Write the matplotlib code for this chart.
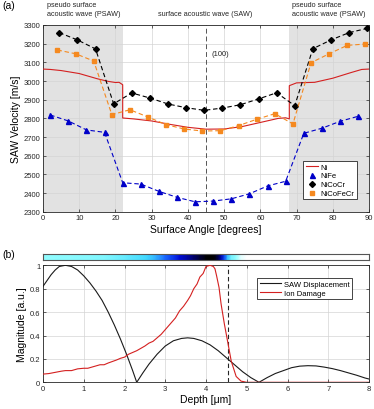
import numpy as np
import matplotlib
matplotlib.use("Agg")
import matplotlib.pyplot as plt
from matplotlib.lines import Line2D
from matplotlib.colors import LinearSegmentedColormap

plt.rcParams['font.family'] = ['Liberation Sans', 'DejaVu Sans']
plt.rcParams['mathtext.fontset'] = 'dejavusans'

# ---------------- data: panel (a) ----------------
ang_ni = [0, 2, 5, 10, 15, 18, 20, 21, 22, 22, 25, 30, 35, 40, 45, 50, 55, 60, 65, 67, 68, 68, 70, 75, 80, 85, 88, 90]
vel_ni = [3064, 3062, 3056, 3040, 3012, 2998, 2992, 2993, 2980, 2802, 2797, 2786, 2768, 2752, 2742,
          2743, 2756, 2778, 2800, 2803, 2797, 2975, 2990, 2993, 3015, 3045, 3062, 3064]

ang_nife = [2, 7, 12, 17, 22, 27, 32, 37, 42, 47, 52, 57, 62, 67, 72, 77, 82, 87]
vel_nife = [2818, 2786, 2738, 2725, 2455, 2448, 2409, 2377, 2353, 2357, 2369, 2396, 2438, 2463,
            2720, 2747, 2784, 2811]

ang_nicocr = [4.5, 9.5, 14.5, 19.5, 24.5, 29.5, 34.5, 39.5, 44.5, 49.5, 54.5, 59.5, 64.5, 69.5,
              74.5, 79.5, 84.5, 89.5]
vel_nicocr = [3259, 3220, 3172, 2878, 2936, 2909, 2877, 2857, 2843, 2855, 2873, 2904, 2937, 2868,
              3173, 3220, 3259, 3282]

ang_nicofecr = [4, 9, 14, 19, 24, 29, 34, 39, 44, 49, 54, 59, 64, 69, 74, 79, 84, 89]
vel_nicofecr = [3166, 3146, 3107, 2820, 2846, 2807, 2766, 2743, 2732, 2734, 2761, 2795, 2825, 2770,
                3098, 3146, 3191, 3198]

# ---------------- data: panel (b) ----------------
depth_saw = [0.0, 0.1, 0.2, 0.3, 0.4, 0.55, 0.7, 0.85, 1.0, 1.15, 1.3, 1.45, 1.6, 1.75, 1.9, 2.05, 2.2, 2.3,
             2.45, 2.6, 2.8, 3.0, 3.2, 3.4, 3.55, 3.7, 3.9, 4.1, 4.3, 4.5, 4.7, 4.9, 5.1, 5.3,
             5.5, 5.7, 5.9, 6.1, 6.3, 6.5, 6.7, 6.9, 7.1, 7.3, 7.5, 7.7, 7.9, 8.0]
mag_saw = [0.82, 0.87, 0.92, 0.96, 0.99, 1.00, 0.99, 0.96, 0.91, 0.85, 0.78, 0.70, 0.60, 0.49, 0.37, 0.24, 0.10, 0.0,
           0.08, 0.155, 0.24, 0.31, 0.355, 0.375, 0.38, 0.375, 0.355, 0.32, 0.27, 0.21, 0.15, 0.09, 0.04, 0.0,
           0.04, 0.075, 0.10, 0.125, 0.138, 0.142, 0.14, 0.13, 0.117, 0.10, 0.08, 0.06, 0.037, 0.028]

depth_dmg = [0.0, 0.15, 0.3, 0.45, 0.55, 0.7, 0.85, 1.0, 1.1, 1.25, 1.4, 1.5, 1.6, 1.8, 1.9, 2.0, 2.1, 2.2, 2.3,
             2.4, 2.5, 2.6, 2.7, 2.8, 2.9, 3.0, 3.15, 3.25, 3.35, 3.45, 3.55, 3.62, 3.7, 3.78, 3.85, 3.93, 4.0,
             4.1, 4.18, 4.22, 4.26, 4.32, 4.37, 4.45, 4.53, 4.62, 4.74, 4.86, 5.0, 8.0]
mag_dmg = [0.07, 0.075, 0.085, 0.095, 0.10, 0.10, 0.115, 0.12, 0.12, 0.135, 0.15, 0.15, 0.165, 0.19, 0.205, 0.215,
           0.24, 0.255, 0.27, 0.29, 0.31, 0.335, 0.35, 0.38, 0.41, 0.45, 0.51, 0.55, 0.61, 0.65, 0.70, 0.74,
           0.80, 0.84, 0.90, 0.93, 0.99, 1.00, 0.99, 0.97, 0.91, 0.81, 0.67, 0.50, 0.35, 0.18, 0.05, 0.01, 0.0, 0.0]

psaw_left = (0, 22)
psaw_right = (68, 90)
surface_100 = 45
damage_edge = 4.55

RED = '#d42020'
BLUE = '#0000c8'
ORANGE = '#f5891f'
GRID = '#d4d4d4'
SHADE = '#e2e2e2'

fig = plt.figure(figsize=(3.74, 4.10), dpi=100)
W, H = 374, 410


def ax_at(x0, y0, x1, y1):
    return fig.add_axes([x0 / W, 1 - y1 / H, (x1 - x0) / W, (y1 - y0) / H])


def style(ax):
    ax.tick_params(direction='in', top=True, right=True, length=2.5, width=0.5,
                   labelsize=5.5, pad=2, colors='#262626')
    for s in ax.spines.values():
        s.set_linewidth(0.6)
        s.set_color('#262626')
    ax.grid(True, color=GRID, lw=0.5)
    ax.set_axisbelow(True)


# ---------------- panel (a) ----------------
ax = ax_at(43, 26, 369, 212.7)
style(ax)
ax.axvspan(*psaw_left, color=SHADE, lw=0, zorder=0)
ax.axvspan(*psaw_right, color=SHADE, lw=0, zorder=0)
ax.axvline(surface_100, color='#555555', lw=0.7, ls=(0, (5, 3)), zorder=1.5)
ax.plot(ang_ni, vel_ni, color=RED, lw=0.8, zorder=3)
ax.plot(ang_nife, vel_nife, color=BLUE, lw=0.8, ls=(0, (4, 2.5)), marker='^', ms=3.6, zorder=3)
ax.plot(ang_nicocr, vel_nicocr, color='black', lw=0.8, ls=(0, (4, 2.5)), marker='D', ms=3.0, zorder=3)
ax.plot(ang_nicofecr, vel_nicofecr, color=ORANGE, lw=0.8, ls=(0, (4, 2.5)), marker='s', ms=3.0, zorder=3)
ax.set_xlim(0, 90)
ax.set_ylim(2300, 3300)
ax.set_xticks(range(0, 91, 10))
ax.set_yticks(range(2300, 3301, 100))
ax.set_xlabel('Surface Angle [degrees]', fontsize=7.5, labelpad=2)
ax.set_ylabel('SAW Velocity [m/s]', fontsize=7.5, labelpad=2)
ax.text(46.5, 3147, '(100)', fontsize=5.5, color='#262626', ha='left', va='center')

handles = [Line2D([], [], color=RED, lw=0.8),
           Line2D([], [], color=BLUE, ls='none', marker='^', ms=3.6),
           Line2D([], [], color='black', ls='none', marker='D', ms=3.0),
           Line2D([], [], color=ORANGE, ls='none', marker='s', ms=3.0)]
leg = ax.legend(handles, ['Ni', 'NiFe', 'NiCoCr', 'NiCoFeCr'], loc='lower right',
                bbox_to_anchor=(0.975, 0.045), fontsize=5.5, handlelength=1.6, handletextpad=0.4,
                labelspacing=0.2, borderpad=0.3, fancybox=False, framealpha=1, edgecolor='#262626')
leg.get_frame().set_linewidth(0.6)

fig.text(47 / W, 1 - 10 / H, 'pseudo surface\nacoustic wave (PSAW)', fontsize=5.2, ha='left', va='center',
         linespacing=1.3, color='#262626')
fig.text(292 / W, 1 - 10 / H, 'pseudo surface\nacoustic wave (PSAW)', fontsize=5.2, ha='left', va='center',
         linespacing=1.3, color='#262626')
fig.text(205.5 / W, 1 - 15 / H, 'surface acoustic wave (SAW)', fontsize=5.2, ha='center', va='center',
         color='#262626')
fig.text(2 / W, 1 - 6 / H, '(a)', fontsize=7.5, ha='left', va='center')
fig.text(2 / W, 1 - 255 / H, '(b)', fontsize=7.5, ha='left', va='center')

# ---------------- colour strip ----------------
cmap = LinearSegmentedColormap.from_list('dmg', [
    (0.0, (1.0, 1.0, 1.0)),
    (0.03, (0.6, 1.0, 1.0)),
    (0.15, (0.5, 0.97, 1.0)),
    (0.32, (0.25, 0.85, 1.0)),
    (0.45, (0.1, 0.4, 1.0)),
    (0.6, (0.0, 0.05, 0.85)),
    (0.8, (0.0, 0.0, 0.4)),
    (1.0, (0.0, 0.0, 0.0))])
axc = ax_at(43, 255.3, 369, 261.3)
dx = np.array(depth_dmg)
dv = np.array(mag_dmg)
axc.pcolormesh(np.vstack([dx, dx]), np.vstack([np.zeros_like(dx), np.ones_like(dx)]),
               np.vstack([dv, dv]), cmap=cmap, vmin=0, vmax=1, shading='gouraud')
axc.set_xlim(0, 8)
axc.set_ylim(0, 1)
axc.set_xticks([])
axc.set_yticks([])
for s in axc.spines.values():
    s.set_linewidth(0.8)
    s.set_color('#555555')

# ---------------- panel (b) ----------------
bx = ax_at(43, 266.3, 369, 383.3)
style(bx)
bx.axvline(damage_edge, color='#262626', lw=0.8, ls=(0, (4, 2.5)), zorder=2)
bx.plot(depth_saw, mag_saw, color='#1a1a1a', lw=0.8, label='SAW Displacement', zorder=3)
bx.plot(depth_dmg, mag_dmg, color=RED, lw=0.8, label='Ion Damage', zorder=3)
bx.set_xlim(0, 8)
bx.set_ylim(0, 1)
bx.set_xticks(range(0, 9))
bx.set_yticks([0, 0.2, 0.4, 0.6, 0.8, 1])
bx.set_yticklabels(['0', '0.2', '0.4', '0.6', '0.8', '1'])
bx.set_xlabel('Depth [μm]', fontsize=7.5, labelpad=1.5)
bx.set_ylabel('Magnitude [a.u.]', fontsize=7.5, labelpad=2)
leg2 = bx.legend(loc='upper right', bbox_to_anchor=(0.96, 0.92), fontsize=5.5, handlelength=2.8,
                 handletextpad=0.4, labelspacing=0.15, borderpad=0.3, fancybox=False, framealpha=1,
                 edgecolor='#262626')
leg2.get_frame().set_linewidth(0.6)

fig.savefig('out.png', dpi=100)
